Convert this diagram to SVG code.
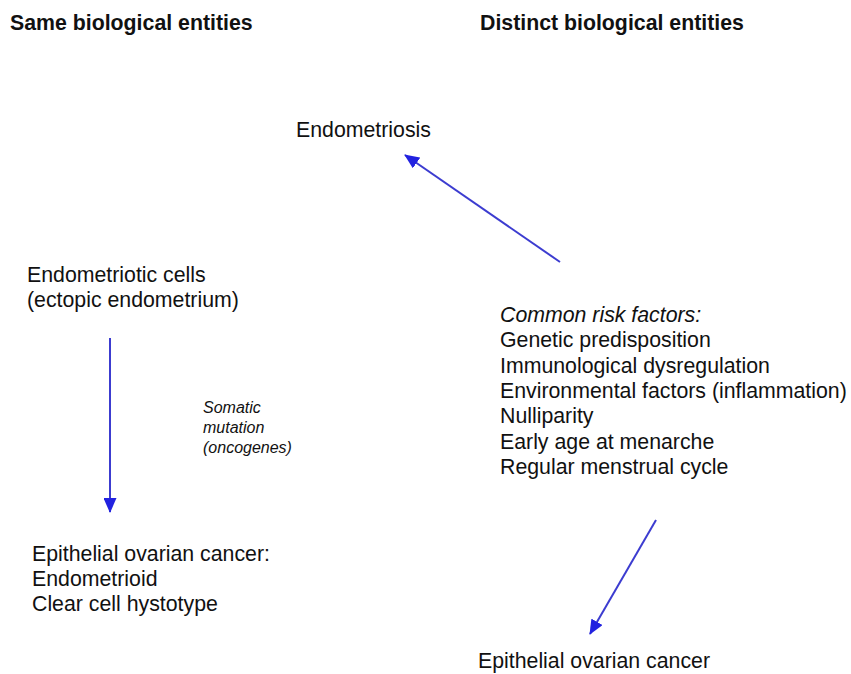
<svg xmlns="http://www.w3.org/2000/svg" width="851" height="674" viewBox="0 0 851 674">
<style>
text{font-family:"Liberation Sans",Arial,sans-serif;fill:#111;}
.h{font-weight:bold;font-size:21.3px;}
.t{font-size:21.3px;}
.s{font-size:16px;font-style:italic;}
.c line{stroke:#3c3cd0;stroke-width:2;}
</style>
<defs>
<marker id="ah" viewBox="0 0 15 13" refX="14" refY="6.5" markerWidth="15" markerHeight="13" orient="auto" markerUnits="userSpaceOnUse">
<path d="M0,0 L15,6.5 L0,13 z" fill="#2222e0"/>
</marker>
</defs>
<rect width="851" height="674" fill="#fff"/>
<g id="header-left"><text class="h" x="10" y="30">Same biological entities</text></g>
<g id="header-right"><text class="h" x="480" y="30">Distinct biological entities</text></g>
<g id="endometriosis"><text class="t" x="296" y="137">Endometriosis</text></g>
<g id="endometriotic-cells"><text class="t" x="27" y="282">Endometriotic cells</text><text class="t" x="27" y="306.5">(ectopic endometrium)</text></g>
<g id="somatic-label"><text class="s" x="203" y="413">Somatic</text><text class="s" x="203" y="433">mutation</text><text class="s" x="203" y="453">(oncogenes)</text></g>
<g id="risk-factors">
<text class="t" x="500" y="322" font-style="italic">Common risk factors:</text>
<text class="t" x="500" y="347">Genetic predisposition</text>
<text class="t" x="500" y="372.5">Immunological dysregulation</text>
<text class="t" x="500" y="398">Environmental factors (inflammation)</text>
<text class="t" x="500" y="423">Nulliparity</text>
<text class="t" x="500" y="448.5">Early age at menarche</text>
<text class="t" x="500" y="474">Regular menstrual cycle</text>
</g>
<g id="eoc-left"><text class="t" x="32" y="561">Epithelial ovarian cancer:</text><text class="t" x="32" y="586">Endometrioid</text><text class="t" x="32" y="611">Clear cell hystotype</text></g>
<g id="eoc-right"><text class="t" x="478" y="668">Epithelial ovarian cancer</text></g>
<g id="connectors" class="c">
<line x1="560" y1="262" x2="405" y2="155" marker-end="url(#ah)"/>
<line x1="110" y1="338" x2="110" y2="512" marker-end="url(#ah)"/>
<line x1="656" y1="520" x2="590" y2="634" marker-end="url(#ah)"/>
</g>
</svg>
